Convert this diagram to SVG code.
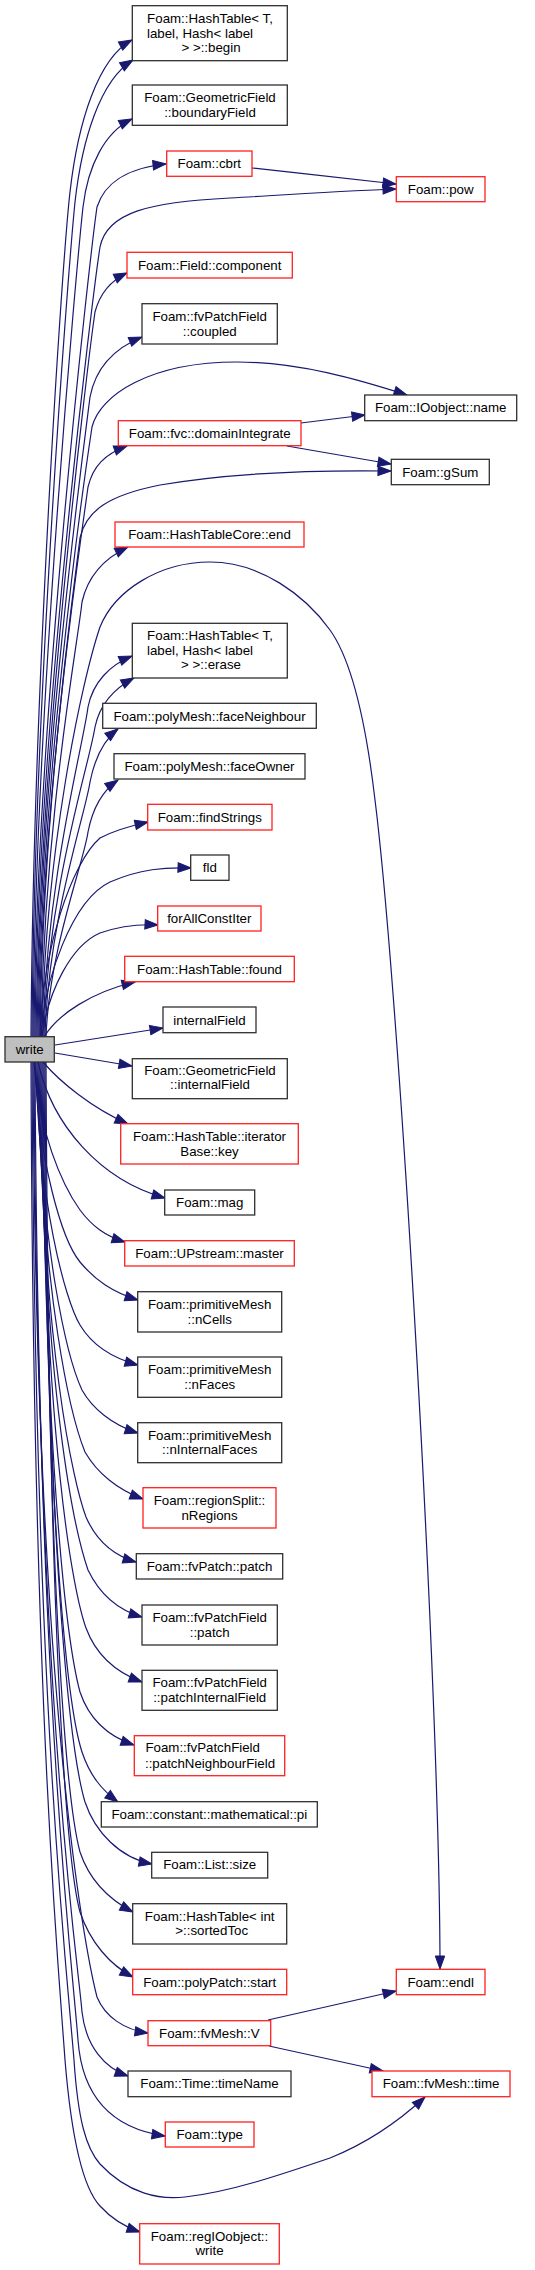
<svg xmlns="http://www.w3.org/2000/svg" width="535" height="2270" viewBox="0 0 535 2270">
<style>
.n rect{fill:#ffffff;stroke:#303030;stroke-width:1.3}
.n.r rect{stroke:#ff2020}
.n.g rect{fill:#bfbfbf}
text{font-family:"Liberation Sans",Arial,Helvetica,sans-serif;font-size:13.3px;text-anchor:middle;fill:#000}
#edges path{fill:none;stroke:#191970;stroke-width:1.2;marker-end:url(#ah)}
</style>
<defs>
<marker id="ah" markerUnits="userSpaceOnUse" markerWidth="14" markerHeight="10" refX="13" refY="4.7" orient="auto" overflow="visible">
<path d="M0,0 L13,4.7 L0,9.4 z" fill="#191970" stroke="#191970" stroke-width="1"/>
</marker>
</defs>
<rect width="535" height="2270" fill="#ffffff"/>
<g id="edges">
<path d="M31,1037 C33,700 62,262 70,192 C78,122 98,58 132,40"/>
<path d="M32,1037 C34,710 68,272 75,202 C82,140 100,80 133,60"/>
<path d="M33,1037 C35,720 77,262 83,207 C88,165 105,132 132,119"/>
<path d="M34,1037 C36,730 90,255 97,207 C104,185 125,168 166,164"/>
<path d="M35,1037 C37,740 93,292 100,247 C107,212 150,202 230,198 C300,194 360,190 396,189"/>
<path d="M36,1037 C39,760 88,360 95,312 C100,293 110,281 127,273"/>
<path d="M37,1037 C40,770 84,445 90,397 C96,366 115,348 142,337"/>
<path d="M38,1037 C41,780 84,480 92,427 C100,395 150,362 237,362 C300,362 360,380 407,395"/>
<path d="M39,1037 C42,790 83,525 88,487 C93,466 105,454 127,446"/>
<path d="M40,1037 C43,800 75,580 80,538 C86,510 110,495 160,485 C230,473 320,470 391,471"/>
<path d="M41,1037 C44,820 78,642 82,602 C88,575 105,558 128,547"/>
<path d="M42,1037 C45,850 82,680 100,627 C115,590 160,562 210,562 C260,562 305,595 330,630 C355,665 368,740 375,800 C400,1000 440,1700 440,1969"/>
<path d="M43,1037 C46,880 84,742 88,707 C93,682 110,665 132,656"/>
<path d="M44,1037 C47,890 90,762 95,727 C100,703 115,688 134,678"/>
<path d="M45,1037 C48,920 86,812 90,782 C95,757 105,739 118,729"/>
<path d="M46,1037 C49,950 84,862 88,832 C93,806 105,789 118,780"/>
<path d="M40,1037 C42,950 72,862 100,838 C115,830 130,826 148,822"/>
<path d="M41,1037 C44,980 72,900 110,882 C140,869 165,867 191,868"/>
<path d="M42,1037 C48,990 72,945 100,933 C120,926 140,924 158,925"/>
<path d="M44,1037 C58,1014 92,992 135,982"/>
<path d="M55,1045 L163,1028"/>
<path d="M55,1053 L132,1066"/>
<path d="M43,1062 C60,1082 92,1108 128,1124"/>
<path d="M38,1062 C52,1125 100,1180 165,1198"/>
<path d="M34,1062 C38,1130 62,1185 80,1210 C92,1226 105,1236 125,1242"/>
<path d="M35,1062 C38,1160 62,1240 80,1262 C95,1280 112,1292 138,1300"/>
<path d="M36,1062 C38,1200 65,1300 80,1325 C92,1345 112,1358 138,1365"/>
<path d="M37,1062 C40,1250 68,1360 82,1390 C92,1408 112,1425 138,1433"/>
<path d="M38,1062 C41,1300 72,1420 85,1452 C97,1473 118,1490 143,1499"/>
<path d="M39,1062 C42,1350 74,1485 86,1517 C96,1540 112,1555 136,1562"/>
<path d="M40,1062 C43,1400 76,1535 88,1570 C100,1595 118,1610 142,1617"/>
<path d="M41,1062 C44,1450 74,1595 86,1628 C96,1655 115,1672 142,1682"/>
<path d="M42,1062 C45,1500 70,1655 80,1692 C90,1722 110,1737 134,1745"/>
<path d="M43,1062 C46,1550 70,1715 82,1752 C90,1776 102,1790 118,1802"/>
<path d="M44,1062 C47,1600 74,1765 85,1802 C95,1832 120,1858 152,1864"/>
<path d="M45,1062 C48,1650 70,1815 80,1852 C90,1882 110,1900 133,1912"/>
<path d="M46,1062 C49,1700 70,1875 80,1912 C90,1942 110,1965 133,1977"/>
<path d="M33,1062 C36,1700 85,1950 97,1997 C105,2017 125,2030 148,2033"/>
<path d="M34,1062 C37,1700 78,1960 82,2012 C86,2047 105,2068 128,2076"/>
<path d="M35,1062 C38,1700 72,1960 78,2040 C82,2095 110,2128 165,2136"/>
<path d="M32,1062 C35,1700 66,1960 74,2060 C78,2120 86,2148 100,2164 C128,2194 160,2200 185,2197 C230,2192 280,2175 330,2158 C370,2142 400,2120 425,2097"/>
<path d="M31,1062 C33,1700 58,1960 65,2060 C72,2145 85,2190 100,2206 C110,2217 122,2226 140,2232"/>
<path d="M252,168 C300,173 350,179 396,184"/>
<path d="M301,423 L365,415"/>
<path d="M287,446 L391,464"/>
<path d="M268,2020 L396,1991"/>
<path d="M269,2046 L383,2071"/>
</g>
<g id="n_begin" class="n"><rect x="132.3" y="5.7" width="155" height="55"/><text x="210" y="23">Foam::HashTable&lt; T,</text><text x="200" y="37.5">label, Hash&lt; label</text><text x="211" y="51.5">&gt; &gt;::begin</text></g>
<g id="n_boundaryField" class="n"><rect x="132.3" y="85" width="155" height="40.3"/><text x="210" y="101.5">Foam::GeometricField</text><text x="210" y="116.5">::boundaryField</text></g>
<g id="n_cbrt" class="n r"><rect x="166.7" y="151" width="85.3" height="25.3"/><text x="209.3" y="168">Foam::cbrt</text></g>
<g id="n_pow" class="n r"><rect x="396.3" y="176.7" width="88.7" height="25"/><text x="440.7" y="193.8">Foam::pow</text></g>
<g id="n_component" class="n r"><rect x="127" y="252.3" width="165.3" height="25.7"/><text x="209.7" y="269.8">Foam::Field::component</text></g>
<g id="n_coupled" class="n"><rect x="142" y="303.7" width="135.3" height="40.3"/><text x="209.7" y="320.5">Foam::fvPatchField</text><text x="209.7" y="335.5">::coupled</text></g>
<g id="n_ioname" class="n"><rect x="364.7" y="395" width="152" height="25.7"/><text x="440.7" y="412">Foam::IOobject::name</text></g>
<g id="n_domainIntegrate" class="n r"><rect x="118.3" y="420.7" width="182.7" height="25"/><text x="209.7" y="437.8">Foam::fvc::domainIntegrate</text></g>
<g id="n_gSum" class="n"><rect x="391.3" y="459.3" width="98" height="25.4"/><text x="440.3" y="476.7">Foam::gSum</text></g>
<g id="n_end" class="n r"><rect x="115" y="522" width="189" height="25"/><text x="209.5" y="539.2">Foam::HashTableCore::end</text></g>
<g id="n_erase" class="n"><rect x="132.3" y="623.3" width="155" height="54.7"/><text x="210" y="640">Foam::HashTable&lt; T,</text><text x="200" y="654.6">label, Hash&lt; label</text><text x="211" y="669">&gt; &gt;::erase</text></g>
<g id="n_faceNeighbour" class="n"><rect x="102.7" y="703.3" width="213.6" height="25"/><text x="209.5" y="720.5">Foam::polyMesh::faceNeighbour</text></g>
<g id="n_faceOwner" class="n"><rect x="114" y="753.7" width="191" height="25.3"/><text x="209.5" y="771">Foam::polyMesh::faceOwner</text></g>
<g id="n_findStrings" class="n r"><rect x="147.7" y="804.3" width="124.3" height="25.7"/><text x="209.8" y="821.8">Foam::findStrings</text></g>
<g id="n_fld" class="n"><rect x="190.7" y="855" width="38.3" height="25.3"/><text x="209.8" y="872.3">fld</text></g>
<g id="n_forAllConstIter" class="n r"><rect x="157.7" y="906" width="103.3" height="25"/><text x="209.3" y="923.2">forAllConstIter</text></g>
<g id="n_found" class="n r"><rect x="124.7" y="956.3" width="169.6" height="25.4"/><text x="209.5" y="973.7">Foam::HashTable::found</text></g>
<g id="n_internalField" class="n"><rect x="163" y="1007" width="93" height="25.7"/><text x="209.5" y="1024.5">internalField</text></g>
<g id="n_write" class="n g"><rect x="5" y="1036.7" width="49.3" height="25.3"/><text x="29.7" y="1054">write</text></g>
<g id="n_geoInternalField" class="n"><rect x="132.3" y="1058.7" width="155" height="40"/><text x="210" y="1075.4">Foam::GeometricField</text><text x="210" y="1089.4">::internalField</text></g>
<g id="n_key" class="n r"><rect x="120.7" y="1123.7" width="177.6" height="40.3"/><text x="209.5" y="1140.8">Foam::HashTable::iterator</text><text x="209.5" y="1155.8">Base::key</text></g>
<g id="n_mag" class="n"><rect x="164.7" y="1190" width="90" height="25"/><text x="209.7" y="1207">Foam::mag</text></g>
<g id="n_master" class="n r"><rect x="124.7" y="1240.7" width="169.6" height="25.3"/><text x="209.5" y="1258">Foam::UPstream::master</text></g>
<g id="n_nCells" class="n"><rect x="137.7" y="1291.7" width="144" height="40.3"/><text x="209.7" y="1308.5">Foam::primitiveMesh</text><text x="209.7" y="1323.5">::nCells</text></g>
<g id="n_nFaces" class="n"><rect x="137.7" y="1357" width="144" height="40.3"/><text x="209.7" y="1373.5">Foam::primitiveMesh</text><text x="209.7" y="1388.5">::nFaces</text></g>
<g id="n_nInternalFaces" class="n"><rect x="137.7" y="1422.7" width="144" height="40"/><text x="209.7" y="1439.5">Foam::primitiveMesh</text><text x="209.7" y="1453.5">::nInternalFaces</text></g>
<g id="n_nRegions" class="n r"><rect x="143" y="1487.7" width="133" height="40.3"/><text x="209.5" y="1504.8">Foam::regionSplit::</text><text x="209.5" y="1519.8">nRegions</text></g>
<g id="n_fvPatchPatch" class="n"><rect x="136.3" y="1553.7" width="146.4" height="25.3"/><text x="209.5" y="1570.5">Foam::fvPatch::patch</text></g>
<g id="n_fvPatchFieldPatch" class="n"><rect x="142" y="1605" width="135.3" height="40"/><text x="209.7" y="1621.5">Foam::fvPatchField</text><text x="209.7" y="1636.5">::patch</text></g>
<g id="n_patchInternalField" class="n"><rect x="142" y="1670.3" width="135.3" height="40"/><text x="209.7" y="1687">Foam::fvPatchField</text><text x="209.7" y="1701.5">::patchInternalField</text></g>
<g id="n_patchNeighbourField" class="n r"><rect x="134.3" y="1735.7" width="150.4" height="40"/><text x="202.7" y="1751.8">Foam::fvPatchField</text><text x="210" y="1767.5">::patchNeighbourField</text></g>
<g id="n_pi" class="n"><rect x="101.3" y="1801.7" width="216" height="25.3"/><text x="209.3" y="1819">Foam::constant::mathematical::pi</text></g>
<g id="n_listSize" class="n"><rect x="151.7" y="1852.3" width="116" height="25.7"/><text x="209.7" y="1869">Foam::List::size</text></g>
<g id="n_sortedToc" class="n"><rect x="132.7" y="1903.7" width="154" height="40.3"/><text x="209.7" y="1920.5">Foam::HashTable&lt; int</text><text x="211.7" y="1935">&gt;::sortedToc</text></g>
<g id="n_start" class="n r"><rect x="132.7" y="1969.3" width="154" height="25.4"/><text x="209.7" y="1986.5">Foam::polyPatch::start</text></g>
<g id="n_endl" class="n r"><rect x="396.3" y="1969.3" width="88.7" height="25.4"/><text x="440.7" y="1986.5">Foam::endl</text></g>
<g id="n_V" class="n r"><rect x="148" y="2020.7" width="122.7" height="25"/><text x="209.3" y="2037.8">Foam::fvMesh::V</text></g>
<g id="n_timeName" class="n"><rect x="128" y="2071" width="163" height="25.7"/><text x="209.5" y="2087.5">Foam::Time::timeName</text></g>
<g id="n_time" class="n r"><rect x="372" y="2071" width="138" height="25.7"/><text x="441" y="2087.5">Foam::fvMesh::time</text></g>
<g id="n_type" class="n r"><rect x="165.3" y="2122" width="88.7" height="25"/><text x="209.7" y="2138.5">Foam::type</text></g>
<g id="n_regWrite" class="n r"><rect x="139.7" y="2223.7" width="139.6" height="40.3"/><text x="209.5" y="2240.5">Foam::regIOobject::</text><text x="209.5" y="2254.8">write</text></g>
</svg>
